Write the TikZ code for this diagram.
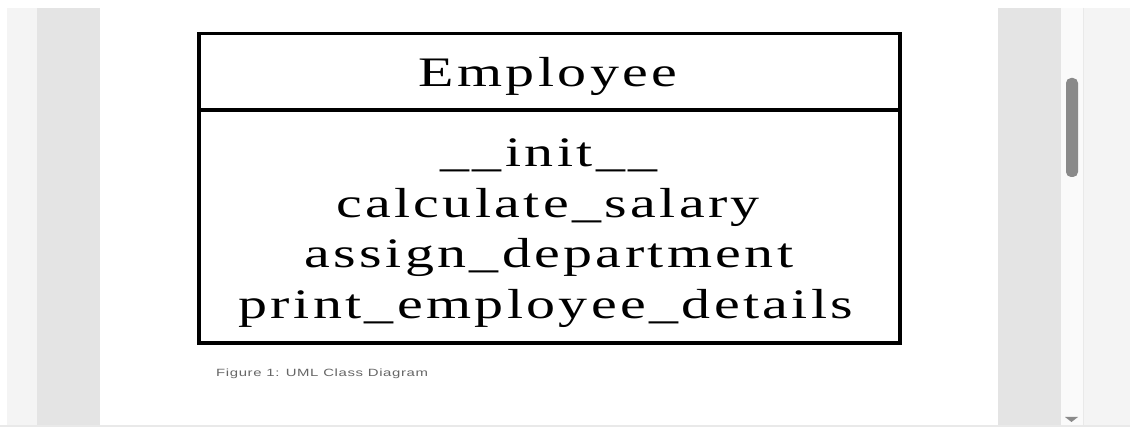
\documentclass[tikz,border=0pt]{standalone}
\usepackage{fontspec}
\setmainfont{Liberation Serif}
\newfontfamily\umlfont[FakeStretch=1.38, LetterSpace=8]{Liberation Serif}
\newfontfamily\capfont[FakeStretch=1.42, LetterSpace=6]{Liberation Sans}
\usetikzlibrary{positioning}
\definecolor{panel}{HTML}{E4E4E4}
\definecolor{margin}{HTML}{F4F4F4}
\definecolor{track}{HTML}{FAFAFA}
\definecolor{thumb}{HTML}{8A8A8A}
\definecolor{rule}{HTML}{E9E9E9}
\definecolor{capgray}{HTML}{666666}

\begin{document}
\begin{tikzpicture}[x=1pt, y=-1pt]
    \tikzstyle{umltext} = [inner sep=0pt, anchor=base, font=\umlfont\fontsize{42}{50}\selectfont]
    \tikzstyle{captext} = [inner sep=0pt, anchor=base west, text=capgray, font=\capfont\fontsize{10.5}{12}\selectfont]
    \tikzstyle{umlline} = [draw=black, line width=3.5pt]

    \useasboundingbox (0,0) rectangle (1130,427);
    \fill[white] (0,0) rectangle (1130,427);
    \fill[margin] (7,8) rectangle (37,427);
    \fill[panel] (37,8) rectangle (100,427);
    \fill[panel] (998,8) rectangle (1061,427);
    \fill[track] (1061,8) rectangle (1083,427);
    \fill[margin] (1084,8) rectangle (1130,427);
    \draw[rule] (1083.5,8) -- (1083.5,427);
    \fill[rule] (0,425) rectangle (1130,427);
    \fill[thumb, rounded corners=5pt] (1066,78) rectangle (1078,177);
    \fill[thumb] (1065,417) -- (1078,417) -- (1071.5,422) -- cycle;

    \coordinate (nw) at (199,33.5);
    \coordinate (se) at (900,343);
    \coordinate (divl) at (199,110);
    \coordinate (divr) at (900,110);
    \draw[umlline] (nw) rectangle (se);
    \draw[umlline] (divl) -- (divr);

    \node[umltext] (classname) at (548,87) {Employee};
    \node[umltext] (init) at (549,167) {\_\_init\_\_};
    \node[umltext] (salary) at (548,217.5) {calculate\_salary};
    \node[umltext] (department) at (549,268) {assign\_department};
    \node[umltext] (details) at (546,319) {print\_employee\_details};

    \node[captext] (caption) at (216,377) {Figure 1: UML Class Diagram};
\end{tikzpicture}
\end{document}
